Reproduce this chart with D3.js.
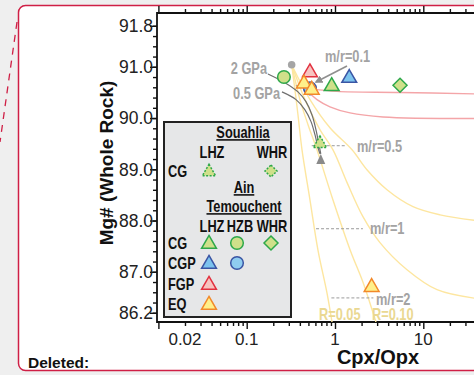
<!DOCTYPE html>
<html>
<head>
<meta charset="utf-8">
<script src="https://cdn.jsdelivr.net/npm/d3@7"></script>
<style>
  body { margin: 0; background: #efefef; }
  svg { display: block; font-family: "Liberation Sans", Arial, sans-serif; }
</style>
</head>
<body>
<script>
// axis ticks
var xTickLabels = [0.02, 0.1, 1, 10];
var yTickLabels = [86.2, 87.0, 88.0, 89.0, 90.0, 91.0, 91.8];

// samples, [Cpx/Opx, Mg#]
var startPoint = [[0.323, 91.04]];
var cgHzb = [[0.264, 90.80]];
var cgpHzb = [[0.52, 90.58]];
var fgpLhz = [[0.52, 90.89]];
var eqLhz = [[0.445, 90.67], [0.545, 90.55], [2.6, 86.70]];
var cgLhz = [[0.917, 90.62]];
var cgpLhz = [[1.45, 90.78]];
var cgWhr = [[5.45, 90.64]];
var souahliaLhz = [[0.676, 89.50]];

// model curves, R = 0.05 / 0.10 (yellow)
var yellowCurves = [
  [[0.323, 91.04], [0.352, 90.55], [0.381, 90.06], [0.423, 89.38], [0.521, 88.40], [0.642, 87.42], [0.811, 86.59], [0.925, 86.02]],
  [[0.323, 91.04], [0.401, 90.36], [0.495, 89.87], [0.625, 89.38], [0.949, 88.40], [1.48, 87.43], [2.08, 86.79], [2.63, 86.26], [2.91, 86.02]],
  [[0.323, 91.04], [0.457, 90.36], [0.677, 89.77], [0.949, 89.38], [1.37, 88.74], [2.08, 88.07], [3.23, 87.57], [6.54, 87.04], [14.3, 86.65], [40, 86.48]],
  [[0.323, 91.04], [0.521, 90.36], [0.877, 89.81], [1.56, 89.38], [2.30, 88.99], [3.88, 88.60], [7.64, 88.27], [15.5, 88.11], [40, 88.00]]
];
// model curves (pink)
var pinkCurves = [
  [[0.549, 90.57], [1.05, 90.52], [5.45, 90.50], [40, 90.47]],
  [[0.469, 90.55], [0.625, 90.36], [0.877, 90.22], [1.48, 90.10], [3.50, 90.02], [40, 89.99]]
];
// melting trends, 2 GPa and 0.5 GPa (grey)
var grayCurves = [
  [[0.174, 90.86], [0.271, 90.69], [0.381, 90.51], [0.469, 90.32], [0.549, 90.06], [0.609, 89.77], [0.659, 89.48], [0.690, 89.30]],
  [[0.251, 90.51], [0.362, 90.36], [0.457, 90.16], [0.535, 89.93], [0.594, 89.67], [0.643, 89.42], [0.676, 89.30]]
];
// m/r steps
var mrSteps = [
  [[0.36, 0.44], 90.63],
  [[0.545, 1.35], 89.46],
  [[0.61, 2.07], 87.84],
  [[0.91, 2.72], 86.49]
];

var W = 474, H = 375;
var svg = d3.select("body").append("svg").attr("width", W).attr("height", H);

svg.append("rect").attr("width", W).attr("height", H).attr("fill", "#efefef");
svg.append("rect")
  .attr("x", 18.5).attr("y", 5.5).attr("width", 520).attr("height", 365)
  .attr("rx", 7).attr("fill", "#fff")
  .attr("stroke", "#cf1f45").attr("stroke-width", 1.5);
svg.append("line")
  .attr("x1", 17).attr("y1", 22).attr("x2", 0).attr("y2", 142)
  .attr("stroke", "#cf1f45").attr("stroke-width", 1.3)
  .attr("stroke-dasharray", "7,6");

var pLeft = 157, pTop = 13, pBottom = 322;
var x = d3.scaleLog().domain([0.01, 100]).range([158.4, 158.4 + 4 * 88.3]);
var y = d3.scaleLinear().domain([86.02, 92.05]).range([pBottom, pTop]);

svg.append("clipPath").attr("id", "plot")
  .append("rect").attr("x", pLeft).attr("y", pTop).attr("width", W - pLeft).attr("height", pBottom - pTop);

// axes
var logMinor = [];
[0.01, 0.1, 1, 10].forEach(function(d) {
  for (var k = 2; k <= 9; k++) logMinor.push(d * k);
});
var logMajor = [0.01, 0.1, 1, 10, 100];
var yMinor = d3.range(86.2, 92.0, 0.2).map(function(d) { return +d.toFixed(1); });

function styleAxis(g) {
  g.selectAll(".domain").remove();
  g.selectAll("line").attr("stroke", "#111").attr("stroke-width", 1.4);
  g.selectAll(".tick").filter(function(d) { return x(d) > W + 5 && this.parentNode.getAttribute("data-h") === "1"; }).remove();
}

var axes = svg.append("g");
function addAxis(axis, tr, horiz) {
  axes.append("g").attr("transform", tr).attr("data-h", horiz ? "1" : "0").call(axis).call(styleAxis);
}
addAxis(d3.axisBottom(x).tickValues(logMinor).tickSize(4).tickFormat(""), "translate(0," + pBottom + ")", true);
addAxis(d3.axisBottom(x).tickValues(logMajor).tickSize(7).tickFormat(""), "translate(0," + pBottom + ")", true);
addAxis(d3.axisTop(x).tickValues(logMinor).tickSize(4).tickFormat(""), "translate(0," + pTop + ")", true);
addAxis(d3.axisTop(x).tickValues(logMajor).tickSize(7).tickFormat(""), "translate(0," + pTop + ")", true);
addAxis(d3.axisLeft(y).tickValues(yMinor).tickSize(4).tickFormat(""), "translate(" + pLeft + ",0)", false);
addAxis(d3.axisLeft(y).tickValues(yTickLabels).tickSize(7).tickFormat(""), "translate(" + pLeft + ",0)", false);

axes.append("path")
  .attr("d", "M" + (W + 2) + "," + pTop + "H" + pLeft + "V" + pBottom + "H" + (W + 2))
  .attr("fill", "none").attr("stroke", "#111").attr("stroke-width", 1.8);

svg.append("g").selectAll("text").data(xTickLabels).enter().append("text")
  .attr("x", function(d) { return x(d); }).attr("y", 345)
  .attr("text-anchor", "middle").attr("font-size", 17).attr("fill", "#222")
  .text(function(d) { return d; });
svg.append("g").selectAll("text").data(yTickLabels).enter().append("text")
  .attr("x", 153).attr("y", function(d) { return y(d); }).attr("dy", "0.36em")
  .attr("text-anchor", "end").attr("font-size", 17.5).attr("fill", "#222")
  .text(function(d) { return d.toFixed(1); });

svg.append("text").attr("transform", "translate(113,163) rotate(-90)")
  .attr("text-anchor", "middle").attr("font-size", 19).attr("font-weight", "bold").attr("fill", "#111")
  .text("Mg# (Whole Rock)");
svg.append("text").attr("x", 378).attr("y", 364)
  .attr("text-anchor", "middle").attr("font-size", 20).attr("font-weight", "bold").attr("fill", "#111")
  .text("Cpx/Opx");
svg.append("text").attr("x", 28).attr("y", 368)
  .attr("font-size", 15.5).attr("font-weight", "bold").attr("fill", "#111")
  .text("Deleted:");

// plot contents
var plot = svg.append("g").attr("clip-path", "url(#plot)");
var line = d3.line().x(function(d) { return x(d[0]); }).y(function(d) { return y(d[1]); }).curve(d3.curveCatmullRom);

plot.selectAll(".yc").data(yellowCurves).enter().append("path")
  .attr("d", line).attr("fill", "none").attr("stroke", "#fde6a0").attr("stroke-width", 1.4);
plot.selectAll(".pc").data(pinkCurves).enter().append("path")
  .attr("d", line).attr("fill", "none").attr("stroke", "#f4a5a8").attr("stroke-width", 1.4);
plot.selectAll(".gc").data(grayCurves).enter().append("path")
  .attr("d", line).attr("fill", "none").attr("stroke", "#6e6e6e").attr("stroke-width", 1.2);

plot.selectAll(".mr").data(mrSteps).enter().append("line")
  .attr("x1", function(d) { return x(d[0][0]); }).attr("x2", function(d) { return x(d[0][1]); })
  .attr("y1", function(d) { return y(d[1]); }).attr("y2", function(d) { return y(d[1]); })
  .attr("stroke", "#9a9a9a").attr("stroke-width", 1).attr("stroke-dasharray", "3,2");

// grey arrow head at the end of the melting trends
var tip = grayCurves[0][grayCurves[0].length - 1];
plot.append("path")
  .attr("transform", "translate(" + x(tip[0]) + "," + (y(tip[1]) + 6) + ")")
  .attr("d", "M0,-6 L4.5,4 L-4.5,4 Z").attr("fill", "#8a8a8a");

var tri = d3.symbol().type(d3.symbolTriangle).size(95);
var tri2 = d3.symbol().type(d3.symbolTriangle).size(78);
var circ = d3.symbol().type(d3.symbolCircle).size(125);
// diamond = square turned 45 degrees
function diamond(r) { return "M0," + (-r) + "L" + r + ",0L0," + r + "L" + (-r) + ",0Z"; }

function pts(data, shape, fill, stroke, dash) {
  var sel = plot.append("g").selectAll("path").data(data).enter().append("path")
    .attr("transform", function(d) { return "translate(" + x(d[0]) + "," + y(d[1]) + ")"; })
    .attr("d", shape).attr("fill", fill).attr("stroke", stroke).attr("stroke-width", 1.5);
  if (dash) sel.attr("stroke-dasharray", dash);
  return sel;
}

pts(startPoint, d3.symbol().type(d3.symbolCircle).size(45)(), "#a5a5a5", "none");
pts(cgHzb, circ(), "#cfe08a", "#2ea84a");
pts(cgpHzb, circ(), "#8fcdf0", "#3a55a4");
pts(fgpLhz, tri(), "#f7c3c0", "#e2313f");
pts(eqLhz, tri(), "#fff08a", "#f2892a");
pts(cgLhz, tri(), "#cfe08a", "#2ea84a");
pts(cgpLhz, tri(), "#7cc3ee", "#3a55a4");
pts(cgWhr, diamond(7), "#cfe08a", "#2ea84a");
pts(souahliaLhz, tri2(), "#cfe08a", "#2ea84a", "2,1.5");

// condensed bold text (the source uses a narrow face)
function ntext(g, tx, ty, s, anchor, fill) {
  var t = g.append("text").attr("transform", "translate(" + tx + "," + ty + ") scale(0.8,1)")
    .attr("text-anchor", anchor || "start").text(s);
  if (fill) t.attr("fill", fill);
  return t;
}

// annotations
var ann = svg.append("g").attr("font-weight", "bold").attr("fill", "#a3a3a3").attr("font-size", 16);
ntext(ann, 325, 62, "m/r=0.1");
ntext(ann, 267, 74, "2 GPa", "end");
ntext(ann, 280, 99, "0.5 GPa", "end");
ntext(ann, 357, 152, "m/r=0.5");
ntext(ann, 370, 234, "m/r=1");
ntext(ann, 376, 305, "m/r=2");
ntext(ann, 319, 320, "R=0.05", null, "#ead892");
ntext(ann, 372, 320, "R=0.10", null, "#ead892");
svg.append("defs").append("marker").attr("id", "ah")
  .attr("viewBox", "0 0 10 10").attr("refX", 8).attr("refY", 5)
  .attr("markerWidth", 5).attr("markerHeight", 5).attr("orient", "auto")
  .append("path").attr("d", "M0,0 L10,5 L0,10 Z").attr("fill", "#8f8f8f");
svg.append("line").attr("x1", 347).attr("y1", 66).attr("x2", 316).attr("y2", 82)
  .attr("stroke", "#8f8f8f").attr("stroke-width", 1.6).attr("marker-end", "url(#ah)");

// legend
var lg = svg.append("g").attr("font-weight", "bold").attr("fill", "#111").attr("font-size", 16);
lg.append("rect").attr("x", 164).attr("y", 122).attr("width", 127).attr("height", 195)
  .attr("fill", "#e6e7e8").attr("stroke", "#222").attr("stroke-width", 2);
function ltext(tx, ty, s, anchor, underline) {
  var t = ntext(lg, tx, ty, s, anchor);
  if (underline) t.attr("text-decoration", "underline");
  return t;
}
ltext(243, 138, "Souahlia", "middle", true);
ltext(212, 158, "LHZ", "middle");
ltext(272, 158, "WHR", "middle");
ltext(168, 177, "CG");
ltext(244, 193, "Ain", "middle", true);
ltext(244, 212, "Temouchent", "middle", true);
ltext(212, 232, "LHZ", "middle");
ltext(240, 232, "HZB", "middle");
ltext(272, 232, "WHR", "middle");
ltext(168, 249, "CG");
ltext(168, 269, "CGP");
ltext(168, 290, "FGP");
ltext(168, 310, "EQ");

function lsym(cx, cy, d, fill, stroke, dash) {
  var p = lg.append("path").attr("transform", "translate(" + cx + "," + cy + ")")
    .attr("d", d).attr("fill", fill).attr("stroke", stroke).attr("stroke-width", 1.5);
  if (dash) p.attr("stroke-dasharray", dash);
}
lsym(209, 172, tri2(), "#cfe08a", "#2ea84a", "2,1.5");
lsym(271, 171, diamond(6), "#cfe08a", "#2ea84a", "2,1.5");
lsym(209, 244, tri(), "#cfe08a", "#2ea84a");
lsym(237, 243, circ(), "#cfe08a", "#2ea84a");
lsym(271, 243, diamond(7), "#cfe08a", "#2ea84a");
lsym(209, 264, tri(), "#7cc3ee", "#3a55a4");
lsym(237, 263, circ(), "#8fcdf0", "#3a55a4");
lsym(209, 285, tri(), "#f7c3c0", "#e2313f");
lsym(209, 305, tri(), "#fff08a", "#f2892a");
</script>
</body>
</html>
